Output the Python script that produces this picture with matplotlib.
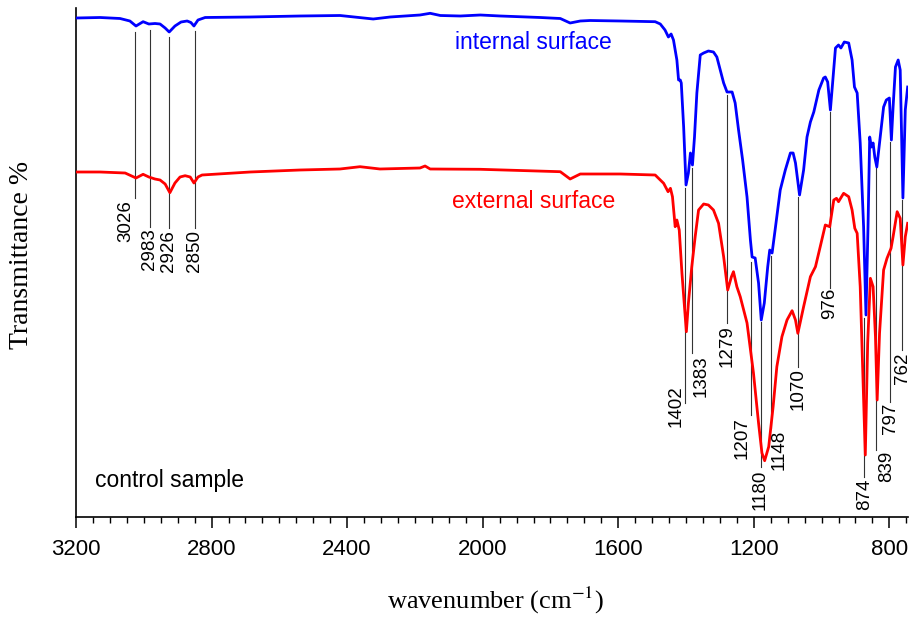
import matplotlib
matplotlib.use('Agg')
import matplotlib.pyplot as plt
from matplotlib.ticker import MultipleLocator

plt.rcParams['mathtext.fontset'] = 'stix'

# FTIR spectra, wavenumber (cm-1) and transmittance (arbitrary units)
wn_internal = [3200, 3129, 3070, 3041, 3023, 3002, 2985, 2967, 2952, 2937,
               2925, 2908, 2890, 2872, 2861, 2852, 2840, 2819, 2686, 2539,
               2421, 2323, 2273, 2185, 2155, 2125, 2066, 2007, 1948, 1830,
               1771, 1742, 1712, 1683, 1594, 1491, 1476, 1462, 1452, 1444,
               1437, 1427, 1422, 1417, 1414, 1407, 1400, 1393, 1387, 1381,
               1375, 1368, 1358, 1348, 1334, 1319, 1309, 1299, 1289, 1279,
               1264, 1255, 1245, 1233, 1220, 1210, 1205, 1196, 1186, 1178,
               1169, 1159, 1153, 1146, 1136, 1122, 1107, 1092, 1084, 1077,
               1065, 1053, 1043, 1033, 1023, 1008, 994, 989, 982, 974,
               966, 959, 950, 943, 933, 920, 910, 903, 895, 886,
               876, 869, 863, 858, 853, 848, 843, 837, 827, 817,
               809, 800, 794, 789, 782, 774, 768, 760, 753, 746]
t_internal = [499, 499.5, 498.5, 496, 491, 495.3, 493, 493.5, 493, 489,
              485, 491, 495, 496, 494.5, 491, 497, 499.5, 500, 501,
              501.5, 498, 500, 502, 503.7, 501.5, 501, 502, 501, 499.5,
              498.5, 494, 496, 496.5, 496, 495.3, 493, 487, 480, 483,
              477, 457, 437, 437, 434, 390, 332, 344, 364, 352,
              380, 424, 462, 464, 466, 465, 460, 447, 434, 425,
              425, 414, 387, 357, 320, 277, 260, 259, 234, 197,
              214, 250, 267, 264, 290, 327, 347, 364, 364, 354,
              322, 347, 380, 395, 405, 427, 439, 440, 435, 407,
              440, 469, 472, 469, 475, 474, 457, 430, 424, 374,
              290, 202, 290, 380, 370, 374, 360, 350, 380, 410,
              417, 419, 377, 410, 450, 457, 447, 319, 407, 430]

wn_external = [3200, 3129, 3055, 3023, 3002, 2985, 2967, 2952, 2937, 2923,
               2908, 2893, 2878, 2863, 2852, 2840, 2828, 2686, 2539, 2421,
               2362, 2303, 2185, 2170, 2155, 2007, 1889, 1771, 1742, 1712,
               1594, 1491, 1466, 1453, 1446, 1440, 1432, 1427, 1420, 1412,
               1399, 1393, 1383, 1373, 1363, 1348, 1334, 1319, 1304, 1289,
               1277, 1266, 1260, 1250, 1240, 1220, 1201, 1186, 1176, 1168,
               1156, 1143, 1132, 1117, 1102, 1087, 1077, 1070, 1053, 1033,
               1018, 1004, 989, 976, 964, 956, 950, 935, 920, 910,
               902, 895, 886, 878, 871, 864, 856, 848, 841, 836,
               829, 817, 807, 795, 789, 777, 768, 760, 753, 746]
t_external = [345, 345, 344, 339, 342.7, 340, 338, 337, 333, 324.3,
              334, 340, 341.3, 340, 334, 340, 342, 345, 347, 348,
              350.3, 348, 349, 351, 348, 347.7, 346.5, 345.3, 338, 343,
              343, 342, 333.7, 325.3, 328.7, 320.3, 290.3, 297, 287, 243.7,
              185.3, 213.7, 250.3, 280.3, 307, 313, 312, 307, 293.7, 260.3,
              227, 240.3, 245.3, 230.3, 220.3, 194, 144, 94, 64, 56.3,
              70.3, 110.3, 150.3, 180.3, 197, 206.3, 197, 183.7, 210.3, 240.3,
              250.3, 270.3, 292, 290.3, 317, 318.7, 315.3, 323.7, 320.3, 307,
              288.7, 283.7, 230.3, 140.3, 62, 173.7, 238.7, 230.3, 180.3, 117,
              183.7, 247, 258.7, 268.7, 280.3, 305.3, 298.7, 252, 280.3, 293.7]

# assigned bands
peaks = [3026, 2983, 2926, 2850, 1402, 1383, 1279, 1207, 1180, 1148,
         1070, 976, 874, 839, 797, 762]

# layout of the band markers (line ends, label top, sideways shift in px)
line_top = [485, 487, 480, 486, 329, 349, 422, 255, 195, 261,
            320, 405, 199, 349, 375, 317]
line_bottom = [319, 290, 289, 289, 114, 164, 194, 102, 50, 89,
               150, 229, 40, 67, 115, 167]
label_top = [317, 289, 287, 287, 132, 162, 192, 100, 47, 87,
             149, 229, 38, 66, 114, 165]
label_dx = [-9.5, 0, 0, 0, -9, 9, 0, -9, 0, 8,
            0, 0, 0, 10, 0, 0]

W, H = 910, 621
fig = plt.figure(figsize=(W / 100, H / 100), dpi=100)
ax = fig.add_axes([76 / W, 104 / H, 832 / W, 509 / H])

ax.plot(wn_internal, t_internal, color='#0000ff', lw=2.0, zorder=3)
ax.plot(wn_external, t_external, color='#ff0000', lw=2.0, zorder=3)

for p, y0, y1, yt, dx in zip(peaks, line_top, line_bottom, label_top, label_dx):
    ax.plot([p, p], [y1, y0], color='#333333', lw=0.8, zorder=2)
    ax.annotate(str(p), xy=(p, yt), xytext=(dx * 0.72, 0),
                textcoords='offset points', rotation=90,
                ha='center', va='top', fontsize=13.5,
                family='Liberation Sans')

ax.set_xlim(3200, 745)
ax.set_ylim(0, 509)

for s in ['top', 'right']:
    ax.spines[s].set_visible(False)
for s in ['left', 'bottom']:
    ax.spines[s].set_linewidth(1.2)

ax.set_yticks([])
ax.xaxis.set_major_locator(MultipleLocator(400))
ax.xaxis.set_minor_locator(MultipleLocator(50))
ax.tick_params(axis='x', which='major', direction='out', length=8,
               width=1.1, pad=8, labelsize=16)
ax.tick_params(axis='x', which='minor', direction='out', length=4, width=1.0)
for lab in ax.get_xticklabels():
    lab.set_family('Liberation Sans')

fig.text(455 / W, 1 - 49 / H, 'internal surface', color='#0000ff',
         fontsize=16.5, family='Liberation Sans', va='baseline')
fig.text(452 / W, 1 - 208 / H, 'external surface', color='#ff0000',
         fontsize=16.5, family='Liberation Sans', va='baseline')
fig.text(95 / W, 1 - 487 / H, 'control sample', color='black',
         fontsize=16.5, family='Liberation Sans', va='baseline')

fig.text(22 / W, 1 - 255 / H, 'Transmittance %', rotation=90,
         ha='center', va='center', fontsize=20, family='Liberation Serif')
fig.text(495 / W, 1 - 600 / H, 'wavenumber (cm$^{-1}$)',
         ha='center', va='center', fontsize=19, family='Liberation Serif')

fig.savefig('out.png', dpi=100)
